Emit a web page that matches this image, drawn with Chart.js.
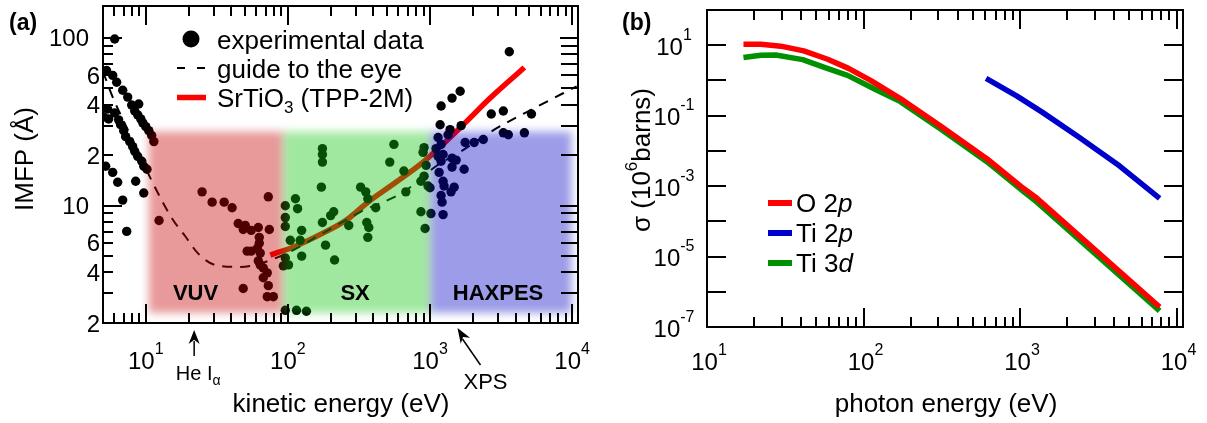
<!DOCTYPE html>
<html>
<head>
<meta charset="utf-8">
<title>IMFP and photoionization cross sections</title>
<script src="https://cdn.jsdelivr.net/npm/chart.js@4.4.1/dist/chart.umd.min.js"></script>
<style>
  html, body { margin: 0; padding: 0; background: #fff; }
  #wrap { position: relative; width: 1207px; height: 423px; overflow: hidden; }
  #panelA { position: absolute; left: 0; top: 0; }
  #panelB { position: absolute; left: 603px; top: 0; }
</style>
</head>
<body>
<div id="wrap">
  <canvas id="panelA" width="603" height="423"></canvas>
  <canvas id="panelB" width="604" height="423"></canvas>
</div>
<script>
// ---------------- panel (a): inelastic mean free path ----------------
// kinetic energy (eV) and IMFP (Å) of the experimental points
const imfpEnergy = [
  6.04, 5.30, 5.85, 6.24, 6.88, 7.46, 7.96, 8.92, 8.36, 8.77, 9.22, 9.53, 10.0, 10.5, 11.0, 11.4,
  5.05, 5.39, 6.04, 5.48, 6.44, 6.65, 6.99, 7.22, 7.71, 8.09, 8.36, 8.77, 9.37, 9.68, 10.2,
  5.22, 5.85, 6.34, 6.88, 8.49, 9.68, 7.34,
  12.4, 24.9, 29.3, 35.6, 40.5, 44.7, 50.1, 48.5, 55.2, 61.9, 62.9, 62.9, 51.7, 55.2, 60.9, 61.9,
  63.9, 67.1, 71.6, 67.1, 72.8, 48.5, 71.6, 79.0, 72.8, 74.0, 63.9,
  95.9, 113, 117, 95.9, 95.9, 125, 122, 104, 125, 95.9, 92.9, 101, 175, 175, 175, 172, 200, 210,
  175, 184, 213, 325, 353, 365, 415, 359, 371, 365, 268, 557, 521, 95.9, 115, 135,
  908, 893, 938, 655, 908, 863, 968, 1000, 676, 863, 1016, 923,
  1140, 1340, 1102, 1236, 1197, 1140, 1429, 1528, 1429, 1738, 1159, 1236, 1256, 1479, 1406, 1197,
  1216, 1236, 1767, 2046, 2371, 1197,
  3614, 1197, 1429, 1630, 1178, 1384, 1656, 2698, 3281, 5176, 3281, 3557, 4613
];
const imfpValue = [
  98.6, 63.9, 59.8, 54.4, 48.8, 44.4, 39.8, 40.4, 36.7, 34.8, 32.9, 31.2, 29.6, 28.0, 26.2, 24.1,
  33.8, 37.7, 35.7, 32.9, 32.5, 30.4, 28.0, 25.8, 24.1, 22.5, 21.1, 19.7, 18.4, 17.2, 16.5,
  17.2, 15.8, 13.8, 10.8, 14.0, 11.9, 7.03,
  8.16, 12.1, 10.5, 10.5, 9.73, 7.84, 7.63, 7.22, 7.13, 7.42, 6.48, 5.98, 5.36, 5.36, 5.58, 4.69,
  4.44, 4.26, 3.98, 3.72, 3.34, 3.21, 2.87, 2.87, 11.3, 7.22, 5.22,
  10.0, 11.0, 9.6, 8.50, 7.52, 7.13, 6.22, 6.22, 5.01, 4.88, 4.38, 4.44, 21.9, 20.2, 18.2, 12.9, 8.73, 9.2,
  7.94, 5.82, 4.75, 12.9, 12.1, 11.0, 9.73, 7.94, 7.42, 6.48, 7.63, 23.2, 18.2, 2.38, 2.38, 2.35,
  22.2, 20.8, 17.4, 16.1, 15.0, 14.0, 13.1, 12.8, 12.1, 9.2, 8.98, 7.32,
  25.5, 26.5, 21.9, 20.2, 18.4, 19.7, 19.2, 18.7, 17.0, 16.5, 15.8, 14.0, 13.1, 12.9, 12.1, 11.5,
  10.5, 8.85, 23.8, 23.8, 24.8, 23.2,
  82.7, 39.3, 43.8, 48.1, 30.4, 28.4, 30.0, 35.2, 36.7, 35.2, 27.2, 26.5, 27.2
];
// dashed "guide to the eye"
const guideEnergy = [5.0, 5.85, 7.71, 10.7, 13.0, 15.3, 18.9, 23.3, 30.7, 46.1, 88.5, 175, 325, 654, 1102, 1526, 2833, 5430, 10760];
const guideValue  = [63, 44.4, 26.8, 14.8, 10.7, 8.4, 6.6, 5.2, 4.44, 4.32, 5.0, 6.84, 9.2, 12.1, 17.2, 20.2, 28.4, 38.2, 51.5];
// SrTiO3 TPP-2M curve
const tppEnergy = [75.2, 113, 175, 255, 371, 575, 908, 1578, 2698, 4613];
const tppValue  = [5.08, 5.74, 6.84, 8.16, 10.6, 13.8, 18.4, 28.4, 44.4, 66.6];
// spectroscopy ranges (kinetic energy bounds, eV) and IMFP band they cover
const regionName  = ['VUV', 'SX', 'HAXPES'];
const regionFrom  = [10.5, 93, 1010];
const regionTo    = [93, 1010, 9900];
const regionLabelEnergy = [22.4, 297, 3010];
const regionBand  = [2.3, 27.6];
const regionLabelValue = 3.0;
// axis ticks of panel (a)
const imfpTickValues = [100, 60, 40, 20, 10, 6, 4, 2];
const imfpTickText   = ['100', '6', '4', '2', '10', '6', '4', '2'];
const energyDecades  = [10, 100, 1000, 10000];
const energyExponent = ['1', '2', '3', '4'];
// marked photon lines
const heIalphaEnergy = 21.2;
const xpsEnergy = 1487;

// ---------------- panel (b): photoionization cross sections ----------------
const o2pEnergy  = [17.1, 22.1, 29.6, 41.5, 59.0, 80.2, 110.9, 172, 309, 617, 1045, 1283, 7800];
const o2pSigma   = [10.7, 10.7, 9.4, 6.9, 4.0, 2.2, 1.0, 0.306, 0.0518, 0.0059, 8.8e-4, 4.5e-4, 3.7e-7];
const ti2pEnergy = [607, 957, 1400, 2410, 4335, 7800];
const ti2pSigma  = [1.14, 0.36, 0.122, 0.0235, 0.0037, 4.5e-4];
const ti3dEnergy = [17.1, 22.1, 27.5, 40.9, 55.6, 79.1, 115.8, 172, 309, 617, 1045, 1283, 7800];
const ti3dSigma  = [4.46, 5.18, 5.28, 3.9, 2.4, 1.39, 0.59, 0.25, 0.0425, 0.00485, 7.2e-4, 3.49e-4, 2.86e-7];
const sigmaTickValues = [1e1, 1e-1, 1e-3, 1e-5, 1e-7];
const sigmaTickExp    = ['1', '-1', '-3', '-5', '-7'];

// ---------------- styling ----------------
const FACE = '"Liberation Sans", Arial, Helvetica, sans-serif';
const regionColor = ['rgba(197,0,0,0.4)', 'rgba(17,197,17,0.4)', 'rgba(7,7,197,0.4)'];
const lineRed = '#ff0000', lineBlue = '#0000cc', lineGreen = '#009000';

function mkFont(size, style) { return (style ? style + ' ' : '') + size + 'px ' + FACE; }
function pts(xs, ys) { return xs.map((v, i) => ({ x: v, y: ys[i] })); }

// draw a sequence of text pieces: [text, size, style, dy]
function drawRuns(ctx, runs, x, y, align) {
  let total = 0;
  const w = runs.map(r => { ctx.font = mkFont(r[1], r[2]); const m = ctx.measureText(r[0]).width; total += m; return m; });
  let cx = align === 'center' ? x - total / 2 : align === 'right' ? x - total : x;
  ctx.textAlign = 'left';
  ctx.textBaseline = 'alphabetic';
  runs.forEach((r, i) => { ctx.font = mkFont(r[1], r[2]); ctx.fillText(r[0], cx, y + (r[3] || 0)); cx += w[i]; });
}

function logTicks(min, max, withMinor) {
  const out = [];
  for (let e = Math.floor(Math.log10(min)); e <= Math.ceil(Math.log10(max)); e++) {
    for (let m = 1; m <= (withMinor ? 9 : 1); m++) {
      const v = m * Math.pow(10, e);
      if (v >= min * 0.999 && v <= max * 1.001) out.push({ v, major: m === 1 });
    }
  }
  return out;
}

// box frame with inward ticks on all four sides
function drawFrame(chart, o) {
  const { ctx, chartArea: a, scales: { x, y } } = chart;
  ctx.save();
  ctx.strokeStyle = '#000';
  ctx.lineWidth = 2;
  ctx.beginPath();
  for (const t of logTicks(x.min, x.max, true)) {
    const px = Math.round(x.getPixelForValue(t.v));
    const len = t.major ? o.xMajor : o.xMinor;
    ctx.moveTo(px, a.bottom); ctx.lineTo(px, a.bottom - len);
    ctx.moveTo(px, a.top); ctx.lineTo(px, a.top + len);
  }
  for (const t of logTicks(y.min, y.max, o.yMinor)) {
    const py = Math.round(y.getPixelForValue(t.v));
    ctx.moveTo(a.left, py); ctx.lineTo(a.left + (t.major ? o.yMajor : o.yMinorLen), py);
    ctx.moveTo(a.right, py); ctx.lineTo(a.right - (t.major ? o.yRightMajor : o.yRightMinor), py);
  }
  ctx.stroke();
  ctx.strokeRect(a.left, a.top, a.right - a.left, a.bottom - a.top);
  ctx.restore();
}

function arrowHead(ctx, tx, ty, ang, len, half) {
  const bx = tx - Math.cos(ang) * len, by = ty - Math.sin(ang) * len;
  const nx = -Math.sin(ang), ny = Math.cos(ang);
  const mx = tx - Math.cos(ang) * len * 0.7, my = ty - Math.sin(ang) * len * 0.7;
  ctx.beginPath();
  ctx.moveTo(tx, ty);
  ctx.lineTo(bx + nx * half, by + ny * half);
  ctx.lineTo(mx, my);
  ctx.lineTo(bx - nx * half, by - ny * half);
  ctx.closePath();
  ctx.fill();
}

// ---------------- panel (a) chart ----------------
const imfpDecor = {
  id: 'imfpDecor',
  afterDatasetsDraw(chart) {
    const { ctx, scales: { x, y } } = chart;
    ctx.save();
    ctx.filter = 'blur(4px)';
    const yTop = y.getPixelForValue(regionBand[1]);
    const yBot = y.getPixelForValue(regionBand[0]);
    regionName.forEach((n, i) => {
      const x0 = x.getPixelForValue(regionFrom[i]);
      const x1 = x.getPixelForValue(regionTo[i]);
      ctx.fillStyle = regionColor[i];
      ctx.fillRect(x0, yTop, x1 - x0, yBot - yTop);
    });
    ctx.restore();
  },
  afterDraw(chart) {
    const { ctx, chartArea: a, scales: { x, y } } = chart;
    drawFrame(chart, { xMajor: 19, xMinor: 10, yMinor: true, yMajor: 19, yMinorLen: 10, yRightMajor: 18, yRightMinor: 17 });
    ctx.save();
    ctx.fillStyle = '#000';
    // region names
    regionName.forEach((n, i) => {
      ctx.font = mkFont(22, 'bold');
      ctx.textAlign = 'center';
      ctx.textBaseline = 'middle';
      ctx.fillText(n, x.getPixelForValue(regionLabelEnergy[i]), y.getPixelForValue(regionLabelValue));
    });
    // y tick labels
    imfpTickValues.forEach((v, i) => {
      const py = y.getPixelForValue(v);
      const right = imfpTickText[i].length > 1 ? a.left - 14 : a.left - 3;
      drawRuns(ctx, [[imfpTickText[i], 24]], right, py + 8.5, 'right');
    });
    // x tick labels
    energyDecades.forEach((v, i) => {
      drawRuns(ctx, [['10', 24], [energyExponent[i], 16, '', -15]], x.getPixelForValue(v), 368.5, 'center');
    });
    // axis titles
    drawRuns(ctx, [['kinetic energy (eV)', 26]], 341, 412, 'center');
    ctx.save();
    ctx.translate(24, 159);
    ctx.rotate(-Math.PI / 2);
    drawRuns(ctx, [['IMFP (Å)', 26]], 0, 9.3, 'center');
    ctx.restore();
    // panel tag
    drawRuns(ctx, [['(a)', 23, 'bold']], 9, 30, 'left');
    // He I alpha arrow
    const hx = x.getPixelForValue(heIalphaEnergy) + 2;
    ctx.strokeStyle = '#000';
    ctx.lineWidth = 1.5;
    ctx.beginPath(); ctx.moveTo(hx, a.bottom + 18); ctx.lineTo(hx, a.bottom + 33); ctx.stroke();
    arrowHead(ctx, hx, a.bottom + 7, -Math.PI / 2, 14, 5.5);
    drawRuns(ctx, [['He I', 20], ['α', 14, '', 5]], hx + 4, 379.5, 'center');
    // XPS arrow
    const xx = x.getPixelForValue(xpsEnergy) + 3;
    const tipY = a.bottom + 5;
    const ang = Math.atan2(tipY - (a.bottom + 42), xx - (xx + 23));
    ctx.beginPath(); ctx.moveTo(xx + 23, a.bottom + 42); ctx.lineTo(xx + 5, tipY + 11); ctx.stroke();
    arrowHead(ctx, xx, tipY, ang, 15, 5.5);
    drawRuns(ctx, [['XPS', 22]], xx + 28, 389, 'center');
    // legend
    ctx.beginPath(); ctx.arc(191, 39, 8.5, 0, Math.PI * 2); ctx.fill();
    ctx.lineWidth = 2;
    ctx.beginPath();
    ctx.moveTo(177, 68); ctx.lineTo(185, 68);
    ctx.moveTo(197, 68); ctx.lineTo(205, 68);
    ctx.stroke();
    ctx.strokeStyle = lineRed; ctx.lineWidth = 5.5;
    ctx.beginPath(); ctx.moveTo(177, 97.5); ctx.lineTo(206, 97.5); ctx.stroke();
    drawRuns(ctx, [['experimental data', 26]], 217, 48.5, 'left');
    drawRuns(ctx, [['guide to the eye', 26]], 217, 77.5, 'left');
    drawRuns(ctx, [['SrTiO', 26], ['3', 17, '', 6], [' (TPP-2M)', 26]], 217, 106.5, 'left');
    ctx.restore();
  }
};

new Chart(document.getElementById('panelA'), {
  type: 'scatter',
  data: {
    datasets: [
      { data: pts(imfpEnergy, imfpValue), pointRadius: 4.7, pointBackgroundColor: '#000', pointBorderWidth: 0, showLine: false },
      { data: pts(guideEnergy, guideValue), showLine: true, pointRadius: 0, borderColor: '#000', borderWidth: 2,
        borderDash: [10, 8], cubicInterpolationMode: 'monotone' },
      { data: pts(tppEnergy, tppValue), showLine: true, pointRadius: 0, borderColor: lineRed, borderWidth: 5.5,
        cubicInterpolationMode: 'monotone' }
    ]
  },
  options: {
    responsive: false,
    animation: false,
    events: [],
    layout: { padding: { left: 103, right: 25, top: 6, bottom: 100 } },
    plugins: { legend: { display: false }, tooltip: { enabled: false } },
    scales: {
      x: { type: 'logarithmic', min: 5, max: 11000, display: false },
      y: { type: 'logarithmic', min: 2, max: 155, display: false }
    }
  },
  plugins: [imfpDecor]
});

// ---------------- panel (b) chart ----------------
const sigmaDecor = {
  id: 'sigmaDecor',
  afterDraw(chart) {
    const { ctx, scales: { x, y } } = chart;
    drawFrame(chart, { xMajor: 19, xMinor: 10, yMinor: false, yMajor: 19, yMinorLen: 10, yRightMajor: 19, yRightMinor: 10 });
    ctx.save();
    ctx.fillStyle = '#000';
    sigmaTickValues.forEach((v, i) => {
      const py = y.getPixelForValue(v);
      drawRuns(ctx, [['10', 24], [sigmaTickExp[i], 16, '', -15]], 71, py + 9.5, 'center');
    });
    energyDecades.forEach((v, i) => {
      drawRuns(ctx, [['10', 24], [energyExponent[i], 16, '', -15]], x.getPixelForValue(v) + 2, 370, 'center');
    });
    drawRuns(ctx, [['photon energy (eV)', 26]], 343, 412, 'center');
    ctx.save();
    ctx.translate(38, 160);
    ctx.rotate(-Math.PI / 2);
    drawRuns(ctx, [['σ (10', 26], ['6', 17, '', -13], ['barns)', 26]], 0, 9.3, 'center');
    ctx.restore();
    drawRuns(ctx, [['(b)', 23, 'bold']], 19, 30, 'left');
    // legend
    const items = [[lineRed, 'O 2', 'p'], [lineBlue, 'Ti 2', 'p'], [lineGreen, 'Ti 3', 'd']];
    items.forEach((it, i) => {
      const cy = 203 + i * 30;
      ctx.strokeStyle = it[0]; ctx.lineWidth = 6;
      ctx.beginPath(); ctx.moveTo(165, cy); ctx.lineTo(189, cy); ctx.stroke();
      drawRuns(ctx, [[it[1], 26], [it[2], 26, 'italic']], 193, cy + 9.3, 'left');
    });
    ctx.restore();
  }
};

const lineStyle = { showLine: true, pointRadius: 0, borderWidth: 5.5, borderCapStyle: 'butt', borderJoinStyle: 'round', tension: 0 };
new Chart(document.getElementById('panelB'), {
  type: 'scatter',
  data: {
    datasets: [
      Object.assign({ data: pts(o2pEnergy, o2pSigma), borderColor: lineRed }, lineStyle),
      Object.assign({ data: pts(ti2pEnergy, ti2pSigma), borderColor: lineBlue }, lineStyle),
      Object.assign({ data: pts(ti3dEnergy, ti3dSigma), borderColor: lineGreen }, lineStyle)
    ]
  },
  options: {
    responsive: false,
    animation: false,
    events: [],
    layout: { padding: { left: 104, right: 24, top: 10, bottom: 96 } },
    plugins: { legend: { display: false }, tooltip: { enabled: false } },
    scales: {
      x: { type: 'logarithmic', min: 10, max: 11000, display: false },
      y: { type: 'logarithmic', min: 1e-7, max: 1e2, display: false }
    }
  },
  plugins: [sigmaDecor]
});
</script>
</body>
</html>
